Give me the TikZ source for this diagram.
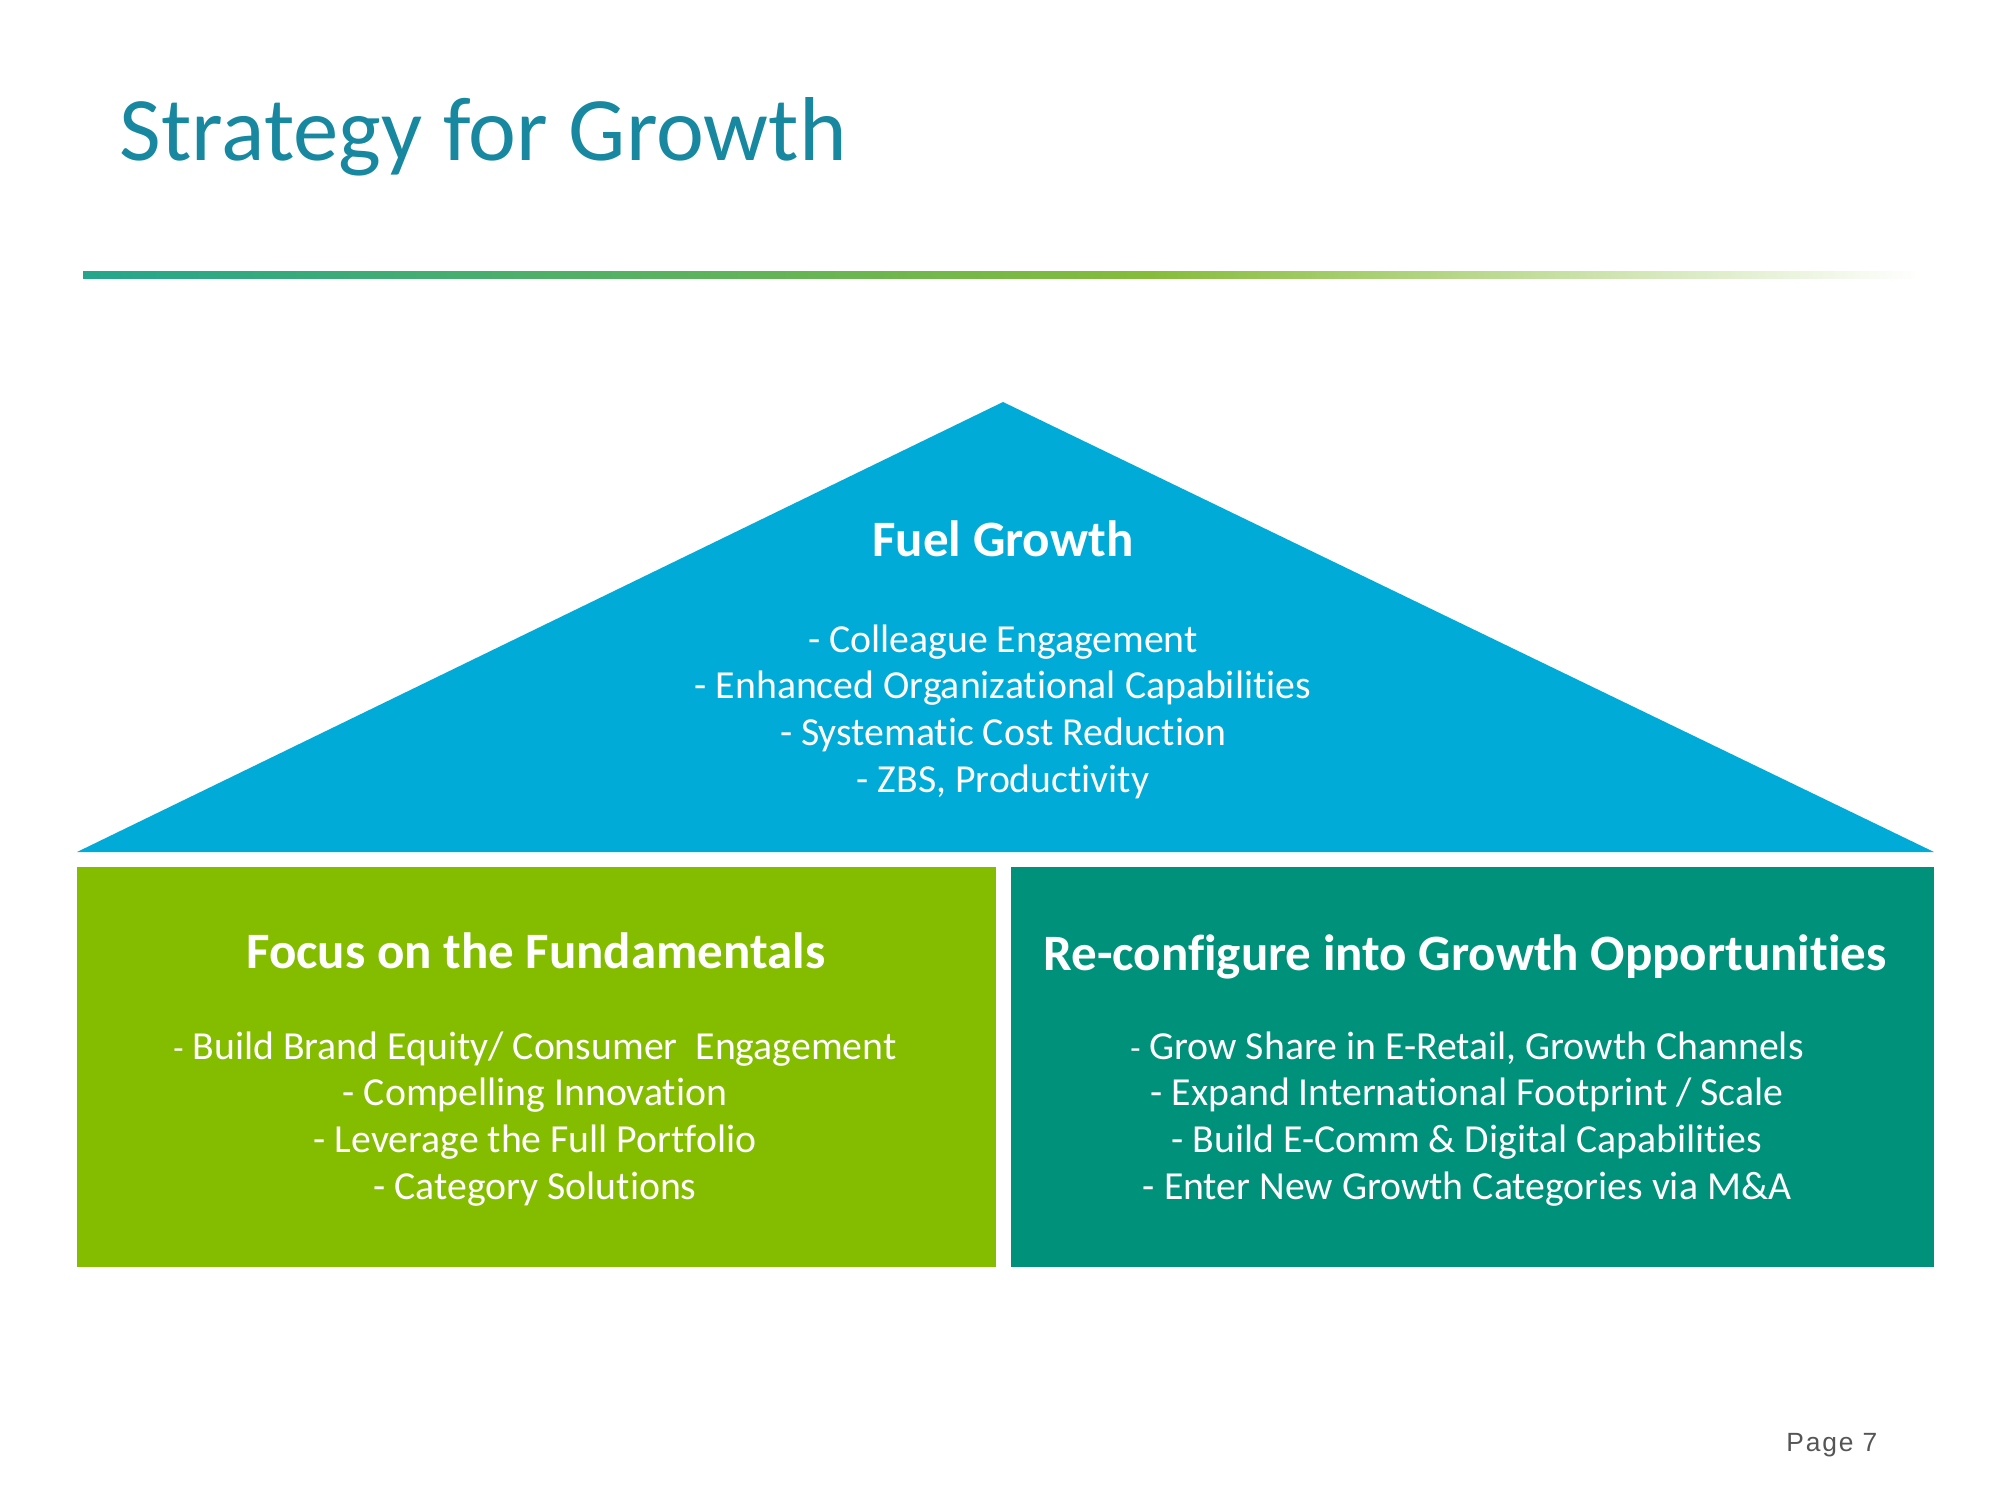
\documentclass[tikz,border=0pt]{standalone}
\usepackage{fontspec}
\setmainfont[Ligatures={NoCommon}]{Carlito}
\newfontfamily\pagefont[LetterSpace=7]{Liberation Sans}
\definecolor{titleblue}{RGB}{23,136,160}
\definecolor{barA}{RGB}{36,166,140}
\definecolor{barB}{RGB}{134,188,58}
\definecolor{fuelblue}{RGB}{0,171,216}
\definecolor{fundgreen}{RGB}{132,189,0}
\definecolor{oppteal}{RGB}{0,145,122}
\definecolor{pagegray}{RGB}{85,85,85}
\newcommand{\smalldash}{{\fontsize{9.5}{9.5}\selectfont -}}
\begin{document}
\begin{tikzpicture}[x=0.01cm,y=-0.01cm,
  bodyline/.style={text=white, font=\fontsize{11.3}{13.4}\selectfont, anchor=base, inner sep=0pt},
  headline/.style={text=white, font=\bfseries\fontsize{14.5}{17}\selectfont, anchor=base, inner sep=0pt}]
\useasboundingbox (0,0) rectangle (2000,1500);
\fill[white] (0,0) rectangle (2000,1500);
% title
\node[anchor=base west, inner sep=0pt, text=titleblue, font=\fontsize{25.8}{30}\selectfont] (title) at (119,160) {Strategy for Growth};
% gradient rule
\shade[left color=barA, right color=barB] (83,271) rectangle (1150,278);
\shade[left color=barB, right color=white] (1149,271) rectangle (1920,278);
% roof
\coordinate (tl) at (77,852);
\coordinate (tt) at (1003,402);
\coordinate (tr) at (1934,852);
\fill[fuelblue] (tl) -- (tt) -- (tr) -- cycle;
% boxes
\fill[fundgreen] (77,867) rectangle (996,1267);
\fill[oppteal] (1011,867) rectangle (1934,1267);
% fuel growth text
\node[headline] (fh) at (1003,556) {Fuel Growth};
\node[bodyline] (f1) at (1003,652) {- Colleague Engagement};
\node[bodyline] (f2) at (1003,698) {- Enhanced Organizational Capabilities};
\node[bodyline] (f3) at (1003,745) {- Systematic Cost Reduction};
\node[bodyline] (f4) at (1003,792) {- ZBS, Productivity};
% fundamentals text
\node[headline] (gh) at (536,968) {Focus on the Fundamentals};
\node[bodyline] (g1) at (535,1059) {\smalldash{} Build Brand Equity/ Consumer\ \ Engagement};
\node[bodyline] (g2) at (535,1105) {- Compelling Innovation};
\node[bodyline] (g3) at (535,1152) {- Leverage the Full Portfolio};
\node[bodyline] (g4) at (535,1199) {- Category Solutions};
% opportunities text
\node[headline] (oh) at (1465,970) {Re-configure into Growth Opportunities};
\node[bodyline] (o1) at (1467,1059) {\smalldash{} Grow Share in E-Retail, Growth Channels};
\node[bodyline] (o2) at (1467,1105) {- Expand International Footprint / Scale};
\node[bodyline] (o3) at (1467,1152) {- Build E-Comm \& Digital Capabilities};
\node[bodyline] (o4) at (1467,1199) {- Enter New Growth Categories via M\&A};
% page number
\node[anchor=base east, inner sep=0pt, text=pagegray, font=\pagefont\fontsize{7.5}{9}\selectfont] (pg) at (1878,1451) {Page 7};
\end{tikzpicture}
\end{document}
